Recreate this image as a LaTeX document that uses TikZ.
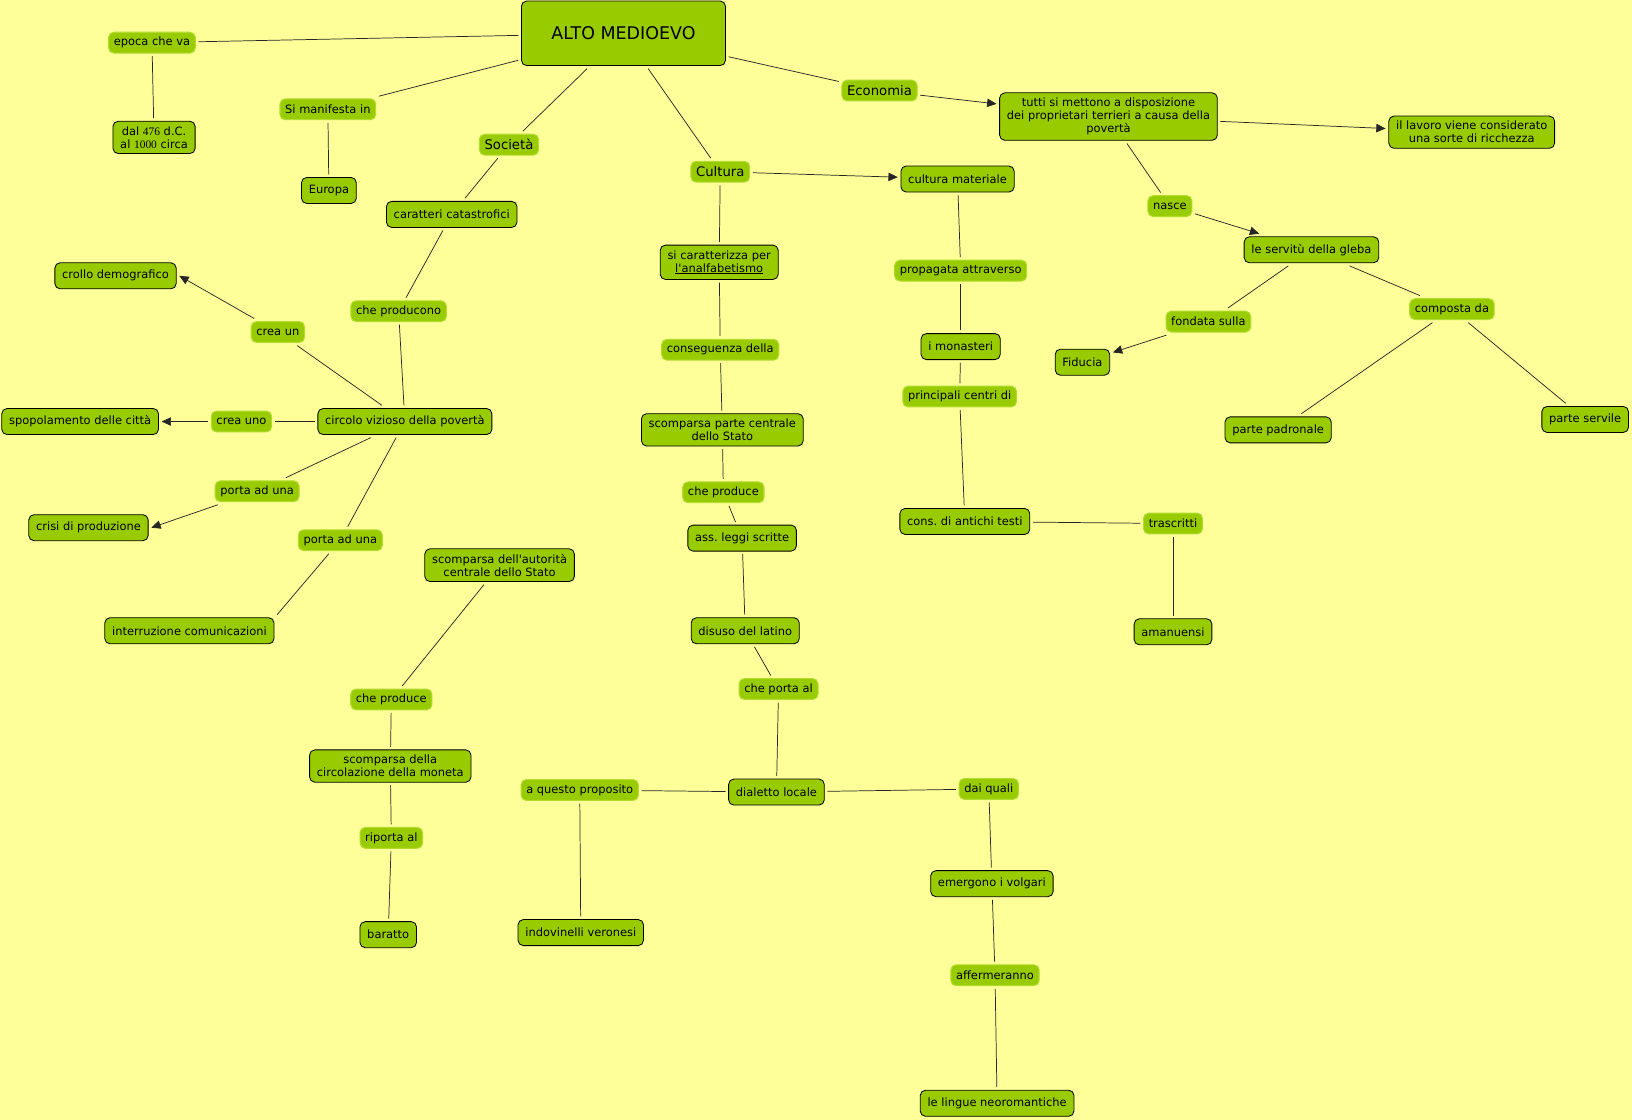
\documentclass[tikz,border=0pt]{standalone}
\usepackage{fontspec}
\setmainfont{DejaVu Sans}
\newfontfamily\cmapfont{DejaVu Sans}
\newfontfamily\numfont{Liberation Serif}
\usepackage{tikz}
\usetikzlibrary{arrows.meta}
\definecolor{cmapgreen}{RGB}{153,204,0}
\definecolor{cmapyellow}{RGB}{255,255,153}
\definecolor{cmapglow}{RGB}{178,220,50}
\frenchspacing

\begin{document}
\begin{tikzpicture}[x=1pt, y=-1pt,
  concept/.style={draw=black, line width=0.8pt, fill=cmapgreen, rounded corners=5pt, align=center,
    inner xsep=7pt, inner ysep=5pt, minimum height=25pt, outer sep=3pt, font=\cmapfont\fontsize{11}{12.5}\selectfont},
  linkphrase/.style={draw=cmapglow, line width=1pt, fill=cmapgreen, rounded corners=5pt,
    inner xsep=5pt, inner ysep=2pt, minimum height=20pt, outer sep=3pt, font=\cmapfont\fontsize{11}{12.5}\selectfont},
  bigphrase/.style={linkphrase, font=\cmapfont\fontsize{12.7}{14}\selectfont},
  conn/.style={line width=0.7pt, draw=black!85},
  arr/.style={conn, -{Triangle[length=9pt,width=8pt]}}]
\fill[cmapyellow] (0,0) rectangle (1568,1076);
\useasboundingbox (0,0) rectangle (1568,1076);

% root
\node[concept, minimum width=196pt, minimum height=62pt, font=\cmapfont\fontsize{16.8}{19}\selectfont] (alto) at (599,32) {ALTO MEDIOEVO};

% epoca
\node[linkphrase] (epoca) at (146,41) {epoca che va};
\node[concept] (dal) at (148,132) {dal {\numfont 476} d.C.\\al {\numfont 1000} circa};
\node[linkphrase] (manif) at (315,105) {Si manifesta in};
\node[concept] (europa) at (316,183) {Europa};

% societa
\node[bigphrase] (societa) at (489,139) {Società};
\node[concept] (catastr) at (434,206) {caratteri catastrofici};
\node[linkphrase] (producono) at (383,299) {che producono};
\node[concept] (circolo) at (389,405) {circolo vizioso della povertà};
\node[linkphrase] (creaun) at (267,319) {crea un};
\node[concept] (crollo) at (111,265) {crollo demografico};
\node[linkphrase] (creauno) at (232,405) {crea uno};
\node[concept] (spopol) at (77,405) {spopolamento delle città};
\node[linkphrase] (porta1) at (247,472) {porta ad una};
\node[concept] (crisi) at (85,507) {crisi di produzione};
\node[linkphrase] (porta2) at (327,519) {porta ad una};
\node[concept] (interr) at (182,606) {interruzione comunicazioni};
\node[concept] (autor) at (480,543) {scomparsa dell'autorità\\centrale dello Stato};
\node[linkphrase] (produce2) at (376,672) {che produce};
\node[concept] (moneta) at (375,736) {scomparsa della\\circolazione della moneta};
\node[linkphrase] (riporta) at (376,805) {riporta al};
\node[concept] (baratto) at (373,898) {baratto};

% cultura
\node[bigphrase] (cultura) at (692,165) {Cultura};
\node[concept] (analf) at (691,252) {si caratterizza per\\\underline{l'analfabetismo}};
\node[linkphrase] (consegu) at (692,336) {conseguenza della};
\node[concept] (stato) at (694,413) {scomparsa parte centrale\\dello Stato};
\node[linkphrase] (produce1) at (695,473) {che produce};
\node[concept] (leggi) at (713,517) {ass. leggi scritte};
\node[concept] (latino) at (716,606) {disuso del latino};
\node[linkphrase] (portaal) at (748,662) {che porta al};
\node[concept] (dialetto) at (746,761) {dialetto locale};
\node[linkphrase] (proposito) at (557,759) {a questo proposito};
\node[concept] (indov) at (558,896) {indovinelli veronesi};
\node[linkphrase] (daiquali) at (950,758) {dai quali};
\node[concept] (volgari) at (953,849) {emergono i volgari};
\node[linkphrase] (affer) at (956,937) {affermeranno};
\node[concept] (lingue) at (958,1060) {le lingue neoromantiche};
\node[concept] (materiale) at (920,172) {cultura materiale};
\node[linkphrase] (propag) at (923,260) {propagata attraverso};
\node[concept] (monast) at (923,333) {i monasteri};
\node[linkphrase] (centri) at (922,381) {principali centri di};
\node[concept] (testi) at (927,501) {cons. di antichi testi};
\node[linkphrase] (trascr) at (1127,503) {trascritti};
\node[concept] (amanu) at (1127,607) {amanuensi};

% economia
\node[bigphrase] (economia) at (845,87) {Economia};
\node[concept] (tutti) at (1065,112) {tutti si mettono a disposizione\\dei proprietari terrieri a causa della\\povertà};
\node[concept] (lavoro) at (1414,127) {il lavoro viene considerato\\una sorte di ricchezza};
\node[linkphrase] (nasce) at (1124,198) {nasce};
\node[concept] (gleba) at (1260,240) {le servitù della gleba};
\node[linkphrase] (fondata) at (1161,309) {fondata sulla};
\node[concept] (fiducia) at (1040,348) {Fiducia};
\node[linkphrase] (composta) at (1395,297) {composta da};
\node[concept] (padron) at (1228,413) {parte padronale};
\node[concept] (servile) at (1523,403) {parte servile};

% connettori
\draw[conn] (alto) -- (epoca);
\draw[conn] (epoca) -- (dal);
\draw[conn] (alto) -- (manif);
\draw[conn] (manif) -- (europa);
\draw[conn] (alto) -- (societa);
\draw[conn] (societa) -- (catastr);
\draw[conn] (catastr) -- (producono);
\draw[conn] (producono) -- (circolo);
\draw[conn] (circolo) -- (creaun);
\draw[arr] (creaun) -- (crollo.east);
\draw[conn] (circolo) -- (creauno);
\draw[arr] (creauno) -- (spopol);
\draw[conn] (circolo) -- (porta1);
\draw[arr] (porta1) -- (crisi.east);
\draw[conn] (circolo) -- (porta2);
\draw[conn] (porta2) -- (interr.north east);
\draw[conn] (autor) -- (produce2);
\draw[conn] (produce2) -- (moneta);
\draw[conn] (moneta) -- (riporta);
\draw[conn] (riporta) -- (baratto);
\draw[conn] (alto) -- (cultura);
\draw[conn] (cultura) -- (analf);
\draw[conn] (analf) -- (consegu);
\draw[conn] (consegu) -- (stato);
\draw[conn] (stato) -- (produce1);
\draw[conn] (produce1) -- (leggi);
\draw[conn] (leggi) -- (latino);
\draw[conn] (latino) -- (portaal);
\draw[conn] (portaal) -- (dialetto);
\draw[conn] (dialetto) -- (proposito);
\draw[conn] (proposito) -- (indov);
\draw[conn] (dialetto) -- (daiquali);
\draw[conn] (daiquali) -- (volgari);
\draw[conn] (volgari) -- (affer);
\draw[conn] (affer) -- (lingue);
\draw[arr] (cultura) -- (materiale);
\draw[conn] (materiale) -- (propag);
\draw[conn] (propag) -- (monast);
\draw[conn] (monast) -- (centri);
\draw[conn] (centri) -- (testi);
\draw[conn] (testi) -- (trascr);
\draw[conn] (trascr) -- (amanu);
\draw[conn] (alto) -- (economia);
\draw[arr] (economia) -- (tutti);
\draw[arr] (tutti) -- (lavoro);
\draw[conn] (tutti) -- (nasce);
\draw[arr] (nasce) -- (gleba);
\draw[conn] (gleba) -- (fondata);
\draw[arr] (fondata) -- (fiducia);
\draw[conn] (gleba) -- (composta);
\draw[conn] (composta) -- (padron);
\draw[conn] (composta) -- (servile);
\end{tikzpicture}
\end{document}
